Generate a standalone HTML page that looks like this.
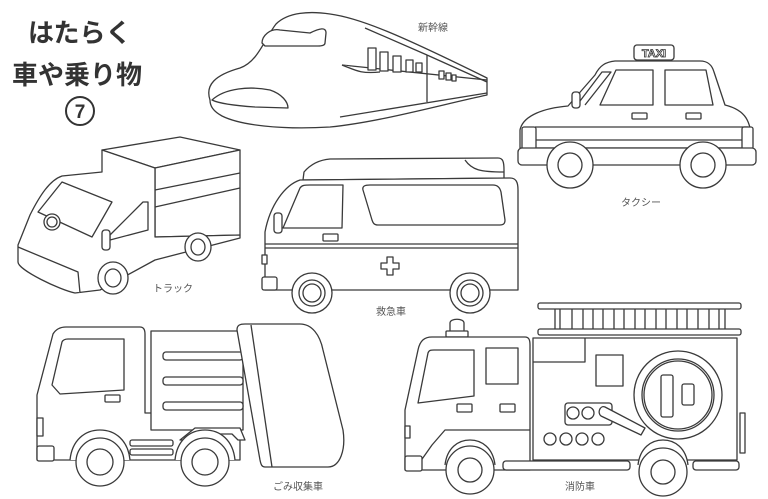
<!DOCTYPE html>
<html><head><meta charset="utf-8"><style>
html,body{margin:0;padding:0;background:#fff;}
svg{display:block}
text{font-family:"Liberation Sans","Noto Sans CJK JP",sans-serif;}
</style></head><body>
<svg width="768" height="499" viewBox="0 0 768 499" xmlns="http://www.w3.org/2000/svg">
<rect width="768" height="499" fill="#fff"/>
<g fill="#fff" stroke="#3a3a3a" stroke-width="1.3" stroke-linejoin="round">

<!-- Shinkansen -->
<path d="M210,100 C205,85 215,75 240,68 C258,62 265,38 276,24 C288,12 310,11 330,14 C360,18 400,35 487,78 L487,95 C440,105 380,122 330,127 C280,130 240,125 222,116 C213,111 210,106 210,100 Z"/>
<path d="M262,43 C262,36 270,28 280,30 L310,33 C320,28 326,27 326,33 L325,43 C325,45 323,46 318,46 L265,46 Z"/>
<path d="M212,100 C225,88 250,86 270,90 C282,94 288,102 288,108 L255,107 C240,106 220,104 212,100 Z"/>
<line x1="342" y1="65" x2="487" y2="80"/><path d="M342,65 C355,70 360,74 380,72"/>
<line x1="365" y1="28" x2="427" y2="55"/><line x1="427" y1="55" x2="487" y2="82"/>
<line x1="427" y1="55" x2="427" y2="102"/>
<line x1="340" y1="117" x2="487" y2="93"/>
<rect x="368" y="48" width="8" height="22"/><rect x="380" y="52" width="8" height="19"/><rect x="393" y="56" width="8" height="16"/><rect x="406" y="60" width="7" height="12"/><rect x="416" y="63" width="6" height="9"/>
<rect x="439" y="71" width="5" height="8"/><rect x="446" y="73" width="5" height="7"/><rect x="452" y="75" width="4" height="6"/>

<!-- Truck -->
<polygon points="102,150 180,137 240,150 155,168"/>
<polygon points="155,168 240,150 240,235 155,237"/>
<line x1="155" y1="190" x2="240" y2="173"/><line x1="155" y1="207" x2="240" y2="188"/>
<path d="M102,150 L102,172 L62,176 C50,180 40,195 30,215 L18,245 L18,262 C18,270 60,290 75,293 L100,290 L155,260 L240,238 L240,235 L155,237 L155,168 Z"/>
<path d="M38,212 L62,182 L112,202 L92,237 Z"/>
<circle cx="52" cy="222" r="8"/><circle cx="52" cy="222" r="5"/>
<path d="M110,235 L143,202 L148,202 L148,230 L110,240 Z"/>
<rect x="102" y="230" width="8" height="20" rx="3"/>
<ellipse cx="113" cy="278" rx="15" ry="16"/><ellipse cx="113" cy="278" rx="8" ry="9"/>
<ellipse cx="198" cy="247" rx="13" ry="14"/><ellipse cx="198" cy="247" rx="7" ry="8"/>
<path d="M18,247 L78,272 L80,293"/>

<!-- Ambulance -->
<path d="M303,180 L304,172 C310,165 318,160 330,159 L498,158 C503,158 504,162 504,170 L504,178 Z"/>
<path d="M465,160 C472,170 480,172 504,172"/>
<path d="M265,290 L265,232 C270,205 285,185 300,180 L510,178 C516,178 518,182 518,190 L518,290 Z"/>
<line x1="265" y1="244" x2="518" y2="244"/><line x1="265" y1="248" x2="518" y2="248"/>
<path d="M283,228 L300,188 C302,185 305,185 310,185 L343,185 L342,228 Z"/>
<path d="M363,190 C362,186 365,185 370,185 L493,185 C498,185 500,188 501,192 L505,220 C505,224 503,225 500,225 L378,225 C374,225 373,223 372,220 Z"/>
<rect x="274" y="213" width="8" height="20" rx="3"/>
<rect x="323" y="234" width="15" height="7" rx="1"/>
<path d="M387,257 h6 v6 h6 v6 h-6 v6 h-6 v-6 h-6 v-6 h6 z"/>
<rect x="262" y="255" width="5" height="9"/>
<rect x="262" y="277" width="15" height="13" rx="2"/>
<circle cx="312" cy="293" r="20"/><circle cx="312" cy="293" r="13"/><circle cx="312" cy="293" r="9"/>
<circle cx="470" cy="293" r="20"/><circle cx="470" cy="293" r="13"/><circle cx="470" cy="293" r="9"/>

<!-- Taxi -->
<rect x="634" y="45" width="40" height="15" rx="3"/>
<path d="M520,148 L520,130 C523,115 545,108 568,106 L595,75 C600,65 606,62 615,61 L700,61 C708,61 712,65 714,72 L725,105 C745,110 752,120 752,148 Z"/>
<path d="M577,105 L602,72 L611,72 L585,105"/>
<path d="M600,105 L616,70 L653,70 L653,105 Z"/>
<path d="M665,70 L706,70 L713,105 L665,105 Z"/>
<rect x="572" y="92" width="8" height="16" rx="3"/>
<rect x="632" y="113" width="15" height="6" rx="1"/><rect x="686" y="113" width="15" height="6" rx="1"/>
<line x1="535" y1="127" x2="748" y2="127"/><line x1="535" y1="140" x2="748" y2="140"/>
<rect x="522" y="127" width="14" height="22" rx="2"/><rect x="742" y="127" width="11" height="22" rx="2"/>
<rect x="518" y="148" width="238" height="17" rx="4"/>
<circle cx="570" cy="165" r="23"/><circle cx="570" cy="165" r="12"/>
<circle cx="703" cy="165" r="23"/><circle cx="703" cy="165" r="12"/>

<!-- Garbage truck -->
<path d="M37,460 L37,395 L53,334 C56,329 60,327 66,327 L140,327 C144,327 145,330 145,334 L145,413 L240,413 L240,460 Z"/>
<path d="M52,385 L62,342 C63,340 65,339 68,339 L124,339 L124,390 L60,394 Z"/>
<rect x="105" y="395" width="15" height="7" rx="1"/>
<rect x="151" y="331" width="92" height="99"/>
<rect x="163" y="352" width="80" height="8" rx="3"/><rect x="163" y="377" width="80" height="8" rx="3"/><rect x="163" y="402" width="80" height="8" rx="3"/>
<path d="M237,330 C237,325 240,324 245,324 L300,324 C312,324 320,335 323,350 L343,430 C346,450 340,467 328,467 L265,467 C262,467 261,465 260,460 Z"/>
<line x1="251" y1="325" x2="272" y2="467"/>
<path d="M180,440 L195,428 L240,428 L245,440 L238,440 L232,434 L197,434 L188,440 Z"/>
<rect x="130" y="440" width="43" height="6" rx="2"/><rect x="130" y="449" width="43" height="6" rx="2"/>
<rect x="37" y="418" width="6" height="18"/>
<rect x="37" y="446" width="17" height="15" rx="2"/>
<path d="M70,460 C72,440 85,430 100,430 C115,430 128,440 130,460"/>
<path d="M175,460 C177,440 190,430 205,430 C220,430 233,440 235,460"/>
<circle cx="100" cy="462" r="24"/><circle cx="100" cy="462" r="13"/>
<circle cx="205" cy="462" r="24"/><circle cx="205" cy="462" r="13"/>

<!-- Fire truck -->
<rect x="538" y="303" width="203" height="6" rx="2"/><rect x="538" y="329" width="203" height="6" rx="2"/>
<g fill="none"><path d="M555,309v20M560,309v20M572,309v20M583,309v20M593,309v20M603,309v20M614,309v20M624,309v20M635,309v20M645,309v20M656,309v20M666,309v20M677,309v20M687,309v20M698,309v20M709,309v20M719,309v20M725,309v20"/></g>
<path d="M450,332 L450,323 C450,318 464,318 464,323 L464,332 Z"/><rect x="446" y="331" width="22" height="6" rx="1"/>
<path d="M405,470 L405,410 L418,350 C420,340 425,337 432,337 L525,337 C529,337 530,340 530,345 L530,470 Z"/>
<path d="M418,403 L428,353 C429,350 431,350 434,350 L474,350 L474,396 Z"/>
<rect x="486" y="348" width="32" height="36"/>
<rect x="457" y="404" width="15" height="8" rx="1"/><rect x="500" y="404" width="15" height="8" rx="1"/>
<path d="M420,462 L432,445 L445,430 L530,430" fill="none"/>
<rect x="405" y="426" width="5" height="12"/>
<rect x="405" y="456" width="17" height="15" rx="2"/>
<rect x="533" y="338" width="204" height="122"/>
<path d="M533,362 L585,362 L585,338" fill="none"/>
<rect x="596" y="355" width="27" height="31"/>
<rect x="740" y="413" width="5" height="40"/>
<circle cx="678" cy="395" r="44"/><circle cx="678" cy="395" r="36"/><circle cx="678" cy="395" r="34"/>
<rect x="661" y="375" width="12" height="42" rx="2"/><rect x="682" y="384" width="12" height="21" rx="2"/>
<rect x="565" y="403" width="47" height="22" rx="3"/>
<circle cx="573" cy="413" r="6"/><circle cx="588" cy="413" r="6"/>
<path d="M605,407 L645,428 L641,435 L601,416 C597,413 600,405 605,407 Z"/>
<circle cx="550" cy="439" r="6"/><circle cx="566" cy="439" r="6"/><circle cx="582" cy="439" r="6"/><circle cx="598" cy="439" r="6"/>
<rect x="503" y="461" width="127" height="9" rx="3"/><rect x="693" y="461" width="46" height="9" rx="3"/>
<path d="M445,465 C447,448 458,440 470,440 C482,440 493,448 495,465"/>
<path d="M638,465 C640,448 651,440 663,440 C675,440 686,448 688,465"/>
<circle cx="470" cy="470" r="24"/><circle cx="470" cy="470" r="12"/>
<circle cx="663" cy="472" r="24"/><circle cx="663" cy="472" r="12"/>
</g>
<text x="654" y="57" font-size="11" font-weight="bold" text-anchor="middle" fill="#fff" stroke="#333" stroke-width="0.8">TAXI</text>

<!-- Titles -->
<g fill="#333" font-weight="bold">
<text x="28" y="42" font-size="26">はたらく</text>
<text x="12" y="84" font-size="26">車や乗り物</text>
</g>
<circle cx="80" cy="111" r="14" fill="none" stroke="#333" stroke-width="2"/>
<text x="80" y="118" font-size="19" font-weight="bold" text-anchor="middle" fill="#333">7</text>
<g fill="#555" font-size="10" text-anchor="middle">
<text x="433" y="31">新幹線</text>
<text x="641" y="206">タクシー</text>
<text x="173" y="292">トラック</text>
<text x="391" y="315">救急車</text>
<text x="298" y="490">ごみ収集車</text>
<text x="580" y="490">消防車</text>
</g>
</svg>
</body></html>
